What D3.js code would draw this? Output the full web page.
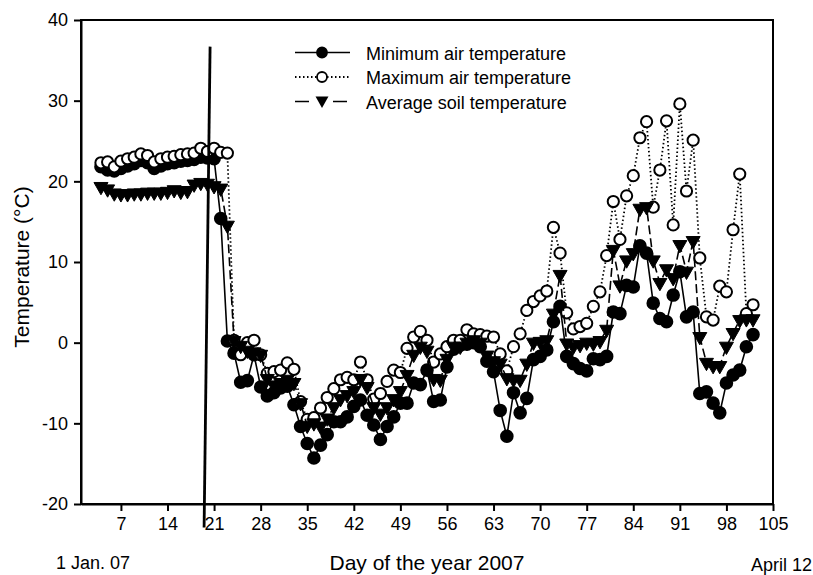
<!DOCTYPE html>
<html>
<head>
<meta charset="utf-8">
<script src="https://cdn.jsdelivr.net/npm/d3@7"></script>
<style>
  body { margin: 0; background: #fff; }
  text { font-family: "Liberation Sans", Arial, Helvetica, sans-serif; fill: #000; }
</style>
</head>
<body>
<div id="chart"></div>
<script>
var svgWidth = 813;
var svgHeight = 575;

var margin = { top: 20, right: 40, bottom: 71, left: 81 };
var width = svgWidth - margin.left - margin.right;
var height = svgHeight - margin.top - margin.bottom;

// day of year 2007
var days = [4, 5, 6, 7, 8, 9, 10, 11, 12, 13, 14, 15, 16, 17, 18, 19, 20, 21, 22, 23,
  24, 25, 26, 27, 28, 29, 30, 31, 32, 33, 34, 35, 36, 37, 38, 39, 40, 41, 42, 43,
  44, 45, 46, 47, 48, 49, 50, 51, 52, 53, 54, 55, 56, 57, 58, 59, 60, 61, 62, 63,
  64, 65, 66, 67, 68, 69, 70, 71, 72, 73, 74, 75, 76, 77, 78, 79, 80, 81, 82, 83,
  84, 85, 86, 87, 88, 89, 90, 91, 92, 93, 94, 95, 96, 97, 98, 99, 100, 101, 102];

var minAir = [21.8, 21.4, 21.3, 21.6, 21.9, 22.2, 22.6, 22.3, 21.6, 21.9, 22.2, 22.3, 22.5, 22.6, 22.7, 23.0, 22.9, 22.8, 15.4, 0.2,
  -1.3, -4.9, -4.7, -1.5, -5.5, -6.6, -6.2, -5.6, -5.4, -7.7, -10.4, -12.5, -14.3, -12.7, -11.4, -9.8, -9.8, -9.2, -7.9, -7.1,
  -9.0, -10.2, -12.0, -10.4, -9.2, -7.5, -7.5, -5.0, -5.2, -3.4, -7.3, -7.1, -3.0, -0.8, -0.3, -0.2, 0.0, -0.5, -2.3, -3.6,
  -8.4, -11.6, -6.2, -8.7, -6.9, -2.1, -1.7, -0.9, 2.6, 4.5, -1.7, -2.6, -3.2, -3.5, -2.0, -2.1, -1.7, 3.8, 3.6, 7.1,
  6.9, 12.0, 11.1, 4.9, 3.0, 2.6, 5.9, 8.8, 3.2, 3.8, -6.3, -6.1, -7.5, -8.7, -5.0, -4.0, -3.4, -0.5, 1.0];

var maxAir = [22.3, 22.4, 21.8, 22.5, 22.8, 23.0, 23.4, 23.2, 22.4, 22.8, 23.0, 23.1, 23.3, 23.4, 23.5, 24.1, 23.7, 24.1, 23.6, 23.5,
  0.3, -1.5, 0.0, 0.3, -1.5, -3.8, -3.6, -3.4, -2.5, -3.3, -7.3, -9.5, -9.3, -8.1, -6.8, -5.7, -4.6, -4.3, -4.6, -2.4,
  -4.6, -7.0, -6.3, -4.8, -3.4, -3.7, -0.7, 0.7, 1.4, 0.3, -2.4, -1.4, -0.5, 0.3, 0.3, 1.6, 1.1, 1.0, 0.8, 0.7,
  -1.4, -3.5, -0.5, 1.1, 4.0, 5.1, 5.8, 6.4, 14.3, 11.1, 3.7, 1.7, 2.0, 2.4, 4.5, 6.3, 10.8, 17.5, 12.8, 18.2,
  20.7, 25.4, 27.4, 16.8, 21.4, 27.5, 14.6, 29.6, 18.8, 25.1, 10.5, 3.2, 2.8, 7.0, 6.3, 14.0, 20.9, 3.6, 4.7];

var avgSoil = [19.3, 19.0, 18.5, 18.4, 18.4, 18.5, 18.5, 18.6, 18.6, 18.6, 18.7, 18.9, 18.7, 18.8, 19.6, 19.8, 19.7, 19.4, 19.1, 14.5,
  0.2, -0.4, -1.0, -1.2, -1.5, -4.5, -5.3, -5.0, -4.6, -5.0, -7.5, -10.3, -10.0, -10.4, -9.4, -8.0, -7.0, -6.5, -6.0, -4.5,
  -5.5, -8.0, -8.8, -8.0, -7.0, -6.0, -4.0, -1.5, -0.5, -1.0, -4.5, -4.6, -2.0, -0.5, -0.5, 0.0, 0.3, 0.0, -1.6, -2.3,
  -2.6, -4.4, -4.6, -4.6, -2.6, 0.0, 0.1, 0.3, 3.6, 8.4, -0.1, -0.5, -0.3, 0.0, -0.1, 0.2, 1.6, 11.5, 7.1, 10.2,
  11.1, 16.6, 16.8, 10.2, 7.4, 9.1, 8.0, 12.1, 8.8, 12.6, 0.7, -2.5, -2.9, -2.9, -0.5, 1.2, 2.8, 2.9, 2.9];

var xTicks = [7, 14, 21, 28, 35, 42, 49, 56, 63, 70, 77, 84, 91, 98, 105];
var yTicks = [-20, -10, 0, 10, 20, 30, 40];

// the drawn vertical marker line near day 20 (start / end in data units)
var markerDays = [20.4, 19.5];
var markerTemps = [36.7, -22.9];

var legendLabels = ["Minimum air temperature", "Maximum air temperature", "Average soil temperature"];

var svg = d3.select("#chart").append("svg")
  .attr("width", svgWidth)
  .attr("height", svgHeight);

var chartGroup = svg.append("g")
  .attr("transform", `translate(${margin.left}, ${margin.top})`);

var xScale = d3.scaleLinear().domain([1, 105]).range([0, width]);
var yScale = d3.scaleLinear().domain([-20, 40]).range([height, 0]);

// frame
chartGroup.append("rect")
  .attr("width", width)
  .attr("height", height)
  .attr("fill", "none")
  .attr("stroke", "#000")
  .attr("stroke-width", 2);

//plain hyphen for negatives, like the original
var bottomAxis = d3.axisBottom(xScale).tickValues(xTicks).tickFormat(d => String(d))
  .tickSizeInner(7).tickSizeOuter(0).tickPadding(6);
var leftAxis = d3.axisLeft(yScale).tickValues(yTicks).tickFormat(d => String(d))
  .tickSizeInner(7).tickSizeOuter(0).tickPadding(6);

var xAxis = chartGroup.append("g")
  .attr("transform", `translate(0, ${height})`)
  .call(bottomAxis);
var yAxis = chartGroup.append("g").call(leftAxis);

[xAxis, yAxis].forEach(function(ax) {
  ax.select(".domain").attr("stroke-width", 2);
  ax.selectAll(".tick line").attr("stroke-width", 2);
  ax.selectAll(".tick text")
    .attr("font-size", "18px")
    .attr("font-family", "Liberation Sans, Arial, sans-serif")
    .attr("fill", "#000");
});

// series
var minData = days.map((d, i) => ({ day: d, v: minAir[i] }));
var maxData = days.map((d, i) => ({ day: d, v: maxAir[i] }));
var soilData = days.map((d, i) => ({ day: d, v: avgSoil[i] }));

var line = d3.line().x(d => xScale(d.day)).y(d => yScale(d.v));

var triPath = "M-7,-4.5 L7,-4.5 L0,7.8 Z";

function drawCircles(data, fill, r) {
  chartGroup.append("g").selectAll("circle")
    .data(data)
    .enter()
    .append("circle")
    .attr("cx", d => xScale(d.day))
    .attr("cy", d => yScale(d.v))
    .attr("r", r)
    .attr("fill", fill)
    .attr("stroke", "#000")
    .attr("stroke-width", 2);
}

// minimum air temperature
chartGroup.append("path")
  .datum(minData)
  .attr("d", line)
  .attr("fill", "none")
  .attr("stroke", "#000")
  .attr("stroke-width", 1.6);
drawCircles(minData, "#000", 5.8);

// maximum air temperature
chartGroup.append("path")
  .datum(maxData)
  .attr("d", line)
  .attr("fill", "none")
  .attr("stroke", "#000")
  .attr("stroke-width", 1.8)
  .attr("stroke-dasharray", "1.5,2.5");
drawCircles(maxData, "#fff", 5.6);

// average soil temperature
chartGroup.append("path")
  .datum(soilData)
  .attr("d", line)
  .attr("fill", "none")
  .attr("stroke", "#000")
  .attr("stroke-width", 1.6)
  .attr("stroke-dasharray", "9,4");
chartGroup.append("g").selectAll("path")
  .data(soilData)
  .enter()
  .append("path")
  .attr("d", triPath)
  .attr("transform", d => `translate(${xScale(d.day)}, ${yScale(d.v)})`)
  .attr("fill", "#000")
  .attr("stroke", "#000")
  .attr("stroke-width", 1);

// vertical marker line
chartGroup.append("line")
  .attr("x1", xScale(markerDays[0]))
  .attr("y1", yScale(markerTemps[0]))
  .attr("x2", xScale(markerDays[1]))
  .attr("y2", yScale(markerTemps[1]))
  .attr("stroke", "#000")
  .attr("stroke-width", 2.8);

// legend
var legend = svg.append("g").attr("transform", "translate(295, 52.5)");
var dashes = [null, "1.5,2.5", "14,5"];
legendLabels.forEach(function(label, i) {
  var row = legend.append("g").attr("transform", `translate(0, ${i * 24.5})`);
  row.append("line")
    .attr("x1", 0).attr("x2", 55)
    .attr("stroke", "#000")
    .attr("stroke-width", i === 1 ? 1.8 : 1.6)
    .attr("stroke-dasharray", dashes[i]);
  if (i === 2) {
    row.append("rect").attr("x", 19).attr("y", -4).attr("width", 17).attr("height", 8).attr("fill", "#fff");
    row.append("path").attr("d", "M-6.5,-4 L6.5,-4 L0,7.5 Z").attr("transform", "translate(27, -1)").attr("fill", "#000");
  } else {
    row.append("circle")
      .attr("cx", 27).attr("r", 5)
      .attr("fill", i === 0 ? "#000" : "#fff")
      .attr("stroke", "#000")
      .attr("stroke-width", 1.8);
  }
  row.append("text")
    .attr("x", 71)
    .attr("y", 7)
    .attr("font-size", "18px")
    .text(label);
});

// axis labels
svg.append("text")
  .attr("transform", "translate(29, 267) rotate(-90)")
  .attr("text-anchor", "middle")
  .attr("font-size", "21px")
  .text("Temperature (°C)");

svg.append("text")
  .attr("x", margin.left + width / 2)
  .attr("y", 570)
  .attr("text-anchor", "middle")
  .attr("font-size", "21px")
  .text("Day of the year 2007");

svg.append("text")
  .attr("x", 56)
  .attr("y", 569)
  .attr("font-size", "18px")
  .text("1 Jan. 07");

svg.append("text")
  .attr("x", 812)
  .attr("y", 571)
  .attr("text-anchor", "end")
  .attr("font-size", "18px")
  .text("April 12");
</script>
</body>
</html>
